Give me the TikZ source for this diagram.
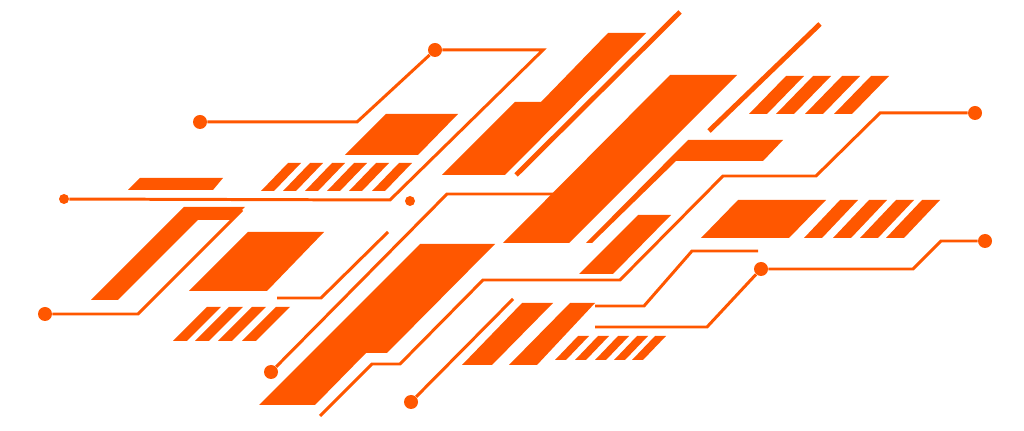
\documentclass[tikz,border=0pt]{standalone}
\usepackage{tikz}
\usetikzlibrary{positioning,calc}
\definecolor{circ}{RGB}{255,87,0}
\begin{document}
\begin{tikzpicture}[
    x=0.02cm, y=-0.02cm,
    blk/.style={fill=circ},
    trace/.style={draw=circ, line width=1.7pt, line join=miter},
    bar/.style={draw=circ, line width=2.8pt},
    pad/.style={circle, fill=circ, inner sep=0pt, minimum size=0.28cm},
    via/.style={circle, fill=circ, inner sep=0pt, minimum size=0.2cm}
]
    \useasboundingbox (0,0) rectangle (1024,431);

    % pads
    \node[pad] (p1) at (435,50) {};
    \node[pad] (p2) at (200,122) {};
    \node[via] (p3) at (64,199) {};
    \node[via] (p4) at (410,201) {};
    \node[pad] (p5) at (975,113) {};
    \node[pad] (p6) at (45,314) {};
    \node[pad] (p7) at (271,372) {};
    \node[pad] (p8) at (411,402) {};
    \node[pad] (p9) at (761,269) {};
    \node[pad] (p10) at (985,241) {};
    \coordinate (e1) at (320,416);
    \coordinate (e2) at (277,298);
    \coordinate (e3) at (595,327);
    \coordinate (e4) at (595,306);
    \coordinate (e5) at (553,194);

    % traces
    \draw[trace] (p2) -- (357,122) -- (p1) -- (543,50) -- (390,200) -- (p3);
    \draw[trace] (p7) -- (447,194) -- (e5);
    \draw[trace] (p5) -- (880,113) -- (816,176) -- (723,176) -- (620,280)
        -- (483,280) -- (400,364) -- (372,364) -- (e1);
    \draw[trace] (p6) -- (138,314) -- (242,210);
    \draw[trace] (e2) -- (321,298) -- (388,232);
    \draw[trace] (p8) -- (513,299);
    \draw[trace] (e3) -- (707,327) -- (p9) -- (913,269) -- (941,241) -- (p10);
    \draw[trace] (e4) -- (644,306) -- (692,251) -- (758,251);
    \draw[bar] (680,12) -- (516,175);
    \draw[bar] (820,24) -- (709,131);

    % blocks
    \fill[blk] (386,114) -- (458,114) -- (418,155) -- (345,155) -- cycle;
    \fill[blk] (140,178) -- (223,178) -- (213,190) -- (128,190) -- cycle;
    \fill[blk] (608,33) -- (646,33) -- (505,175) -- (442,175) -- (515,102) -- (541,102) -- cycle;
    \fill[blk] (670,75) -- (737,75) -- (569,243) -- (503,243) -- cycle;
    \fill[blk] (688,140) -- (783,140) -- (763,161) -- (676,161) -- (592,243) -- (586,243) -- cycle;
    \fill[blk] (638,215) -- (671,215) -- (613,274) -- (579,274) -- cycle;
    \fill[blk] (738,200) -- (826,200) -- (789,238) -- (701,238) -- cycle;
    \fill[blk] (570,303) -- (595,303) -- (537,365) -- (509,365) -- cycle;
    \fill[blk] (522,303) -- (553,303) -- (492,365) -- (462,365) -- cycle;
    \fill[blk] (184,207) -- (245,207) -- (232,220) -- (198,220) -- (118,300) -- (91,300) -- cycle;
    \fill[blk] (248,232) -- (324,232) -- (267,291) -- (189,291) -- cycle;
    \fill[blk] (420,244) -- (495,244) -- (387,353) -- (366,353) -- (315,405) -- (259,405) -- cycle;

    % stripe rows
    \foreach \t in {288,310,332,354,376,399}
        \fill[blk] (\t,163) -- (\t+13,163) -- (\t-14,191) -- (\t-27,191) -- cycle;
    \foreach \t in {786,813,842,871}
        \fill[blk] (\t,76) -- (\t+18,76) -- (\t-19,114) -- (\t-37,114) -- cycle;
    \foreach \t in {840,869,896,922}
        \fill[blk] (\t,200) -- (\t+18,200) -- (\t-18,238) -- (\t-36,238) -- cycle;
    \foreach \t in {207,229,252,276}
        \fill[blk] (\t,307) -- (\t+14,307) -- (\t-20,341) -- (\t-34,341) -- cycle;
    \foreach \t in {578,598,618,637,655}
        \fill[blk] (\t,336) -- (\t+11,336) -- (\t-12,360) -- (\t-23,360) -- cycle;
\end{tikzpicture}
\end{document}
